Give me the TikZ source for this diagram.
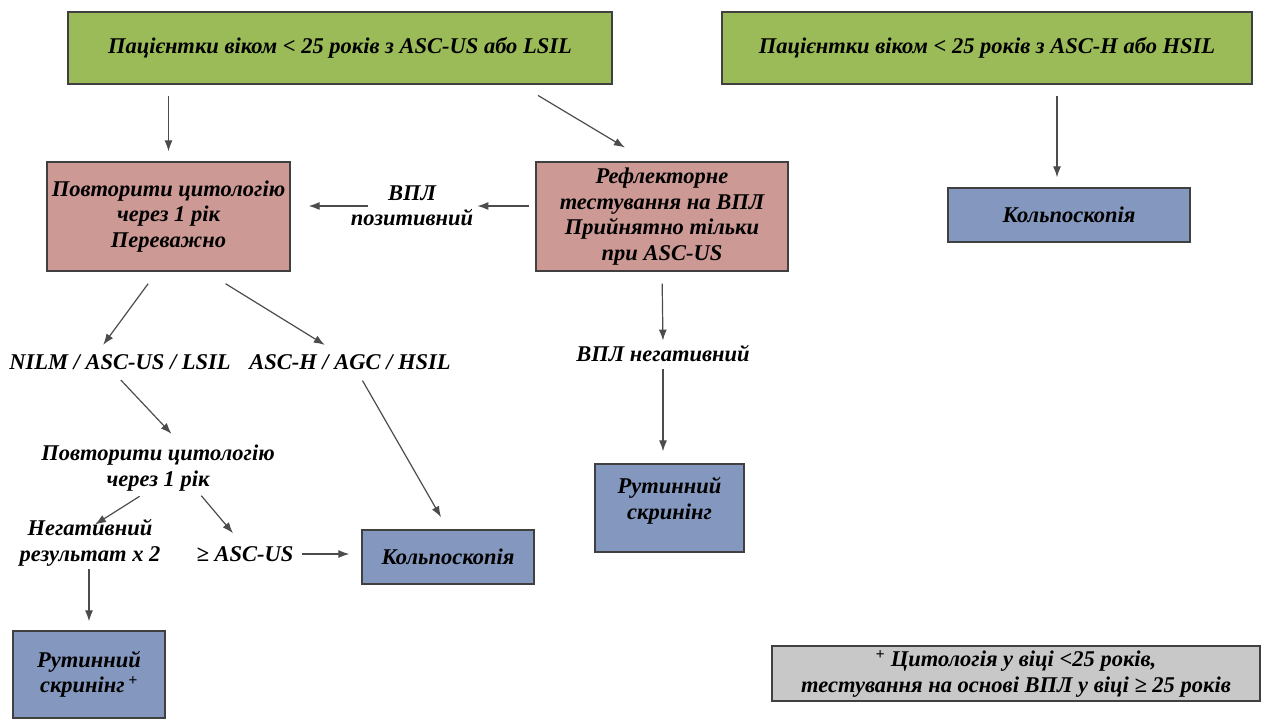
\documentclass[tikz,border=0pt]{standalone}
\usepackage{fontspec}
\setmainfont{Liberation Serif}
\usetikzlibrary{arrows.meta}
\definecolor{boxgreen}{RGB}{155,187,89}
\definecolor{boxred}{RGB}{204,153,148}
\definecolor{boxblue}{RGB}{132,151,190}
\definecolor{boxgray}{RGB}{200,200,200}

\begin{document}
\begin{tikzpicture}[x=1pt,y=-1pt]
\tikzset{Box/.style={draw=black!75, line width=1.3pt, align=center, inner sep=3pt, font=\fontsize{22.5}{25.5}\selectfont\bfseries\itshape},
Green/.style={Box, fill=boxgreen, minimum height=72pt},
Red/.style={Box, fill=boxred, minimum height=109pt},
Blue/.style={Box, fill=boxblue},
Label/.style={align=center, inner sep=3pt, font=\fontsize{22.5}{25.5}\selectfont\bfseries\itshape},
Arrow/.style={-{Latex[length=11pt,width=8pt]}, draw=black!70, line width=1.2pt}}
\useasboundingbox (0,0) rectangle (1263,720);
\node[Green, minimum width=544pt] (young1) at (340,48) {Пацієнтки віком < 25 років з ASC-US або LSIL};
\node[Green, minimum width=530pt] (young2) at (987,48) {Пацієнтки віком < 25 років з ASC-H або HSIL};
\node[Red, minimum width=243pt] (repeat1) at (168.5,216.5) {Повторити цитологію\\через 1 рік\\Переважно};
\node[Red, minimum width=252pt] (reflex) at (662,216.5) {Рефлекторне\\тестування на ВПЛ\\Прийнятно тільки\\при ASC-US};
\node[Blue, minimum width=242pt, minimum height=54pt] (colpo1) at (1069,215) {Кольпоскопія};
\node[Blue, minimum width=172pt, minimum height=54pt] (colpo2) at (448,557) {Кольпоскопія};
\node[Blue, minimum width=149pt, minimum height=88pt] (screen1) at (669.5,508) {Рутинний\\скринінг\\[-6pt]};
\node[Blue, minimum width=152pt, minimum height=87pt] (screen2) at (89,674.5) {Рутинний\\скринінг\,\textsuperscript{+}};
\node[Box, fill=boxgray, line width=1.8pt, minimum width=488pt, minimum height=55pt] (note) at (1016,673.5) {\textsuperscript{+} Цитологія у віці <25 років,\\тестування на основі ВПЛ у віці ≥ 25 років};
\node[Label] (hpvpos) at (412,206) {ВПЛ\\позитивний};
\node[Label] (nilm) at (120,362) {NILM / ASC-US / LSIL};
\node[Label] (asch) at (350,362) {ASC-H / AGC / HSIL};
\node[Label] (hpvneg) at (663,354) {ВПЛ негативний};
\node[Label] (repeat2) at (158,468) {Повторити цитологію\\через 1 рік};
\node[Label] (neg) at (90,543) {Негативний\\результат х 2};
\node[Label] (geasc) at (245,554) {≥ ASC-US};
\draw[Arrow, shorten <=11pt, shorten >=10pt] (repeat1.north |- young1.south) -- (repeat1.north);
\draw[Arrow, shorten <=21pt, shorten >=27pt] ([xshift=180pt]young1.south) -- ([xshift=-14pt]reflex.north);
\draw[Arrow, shorten <=6pt, shorten >=1pt] (reflex.west |- hpvpos.east) -- (hpvpos.east);
\draw[Arrow, shorten >=18pt] ([xshift=20pt]hpvpos.west) -- (repeat1.east |- hpvpos.west);
\draw[Arrow, shorten <=15pt, shorten >=8pt] ([xshift=-11.5pt]repeat1.south) -- ([xshift=-21.5pt]nilm.north);
\draw[Arrow, shorten <=23pt, shorten >=12pt] ([xshift=37.5pt]repeat1.south) -- ([xshift=-15pt]asch.north);
\draw[Arrow, shorten <=10pt, shorten >=11pt] ([xshift=-6pt]nilm.south) -- ([xshift=21pt]repeat2.north);
\draw[Arrow, shorten <=9pt, shorten >=14pt] ([xshift=8pt]asch.south) -- (colpo2.north);
\draw[Arrow, shorten <=4pt] ([xshift=-15pt]repeat2.south) -- ([xshift=5pt,yshift=-8pt]neg.north);
\draw[Arrow, shorten <=2pt] ([xshift=42pt]repeat2.south) -- ([xshift=-12pt,yshift=10pt]geasc.north);
\draw[Arrow, shorten <=5pt, shorten >=12pt] (geasc.east) -- (colpo2.west |- geasc.east);
\draw[Arrow, shorten >=9pt] (screen2.north |- neg.south) -- (screen2.north);
\draw[Arrow, shorten <=12pt, shorten >=2pt] (reflex.south) -- (hpvneg.north);
\draw[Arrow, shorten <=4pt, shorten >=12pt] (hpvneg.south) -- (hpvneg.south |- screen1.north);
\draw[Arrow, shorten <=11pt, shorten >=10pt] ([xshift=-12pt]colpo1.north |- young2.south) -- ([xshift=-12pt]colpo1.north);
\end{tikzpicture}
\end{document}
